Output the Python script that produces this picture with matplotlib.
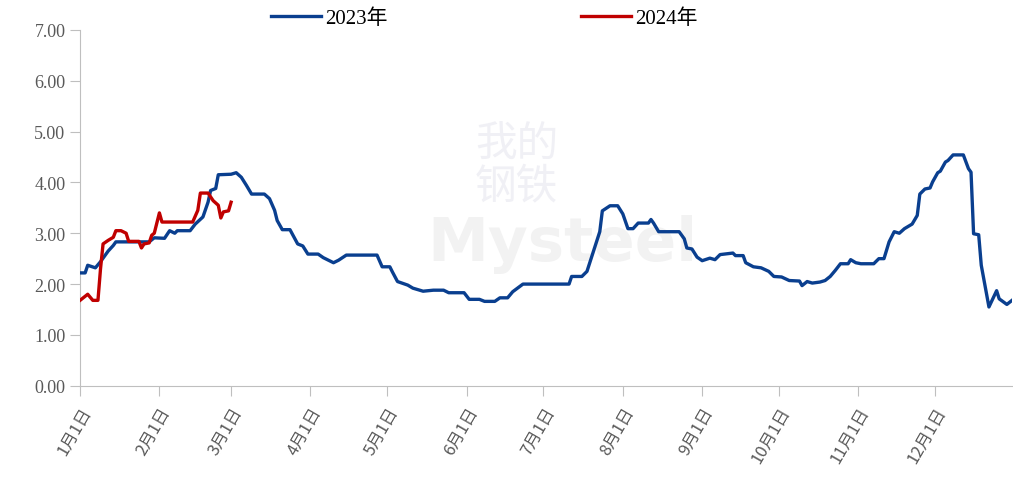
import matplotlib
matplotlib.use("Agg")
import matplotlib.pyplot as plt

plt.rcParams['font.family'] = ['Liberation Serif', 'Noto Sans CJK SC']

# 2023年 (day of year, value)
dias_2023 = [0, 2, 3, 6, 8, 11, 13, 14, 27, 29, 33, 35, 37, 38, 43, 45, 48, 50, 51, 53,
             54, 59, 61, 63, 65, 67, 72, 74, 76, 77, 79, 82, 85, 87, 89, 93, 95, 97, 99, 101,
             104, 116, 118, 121, 122, 124, 128, 130, 134, 138, 142, 144, 150, 152, 156, 158,
             162, 164, 167, 169, 173, 191, 192, 196, 198, 200, 203, 204, 207, 210, 212, 214,
             216, 218, 222, 223, 224, 226, 234, 236, 237, 239, 241, 243, 246, 248, 250, 255,
             256, 259, 260, 263, 266, 269, 271, 274, 277, 281, 282, 284, 286, 289, 291, 293,
             295, 297, 300, 301, 303, 305, 310, 312, 314, 316, 318, 320, 322, 325, 327, 328,
             330, 332, 333, 335, 336, 338, 339, 341, 345, 347, 348, 349, 351, 352, 355, 358,
             359, 362, 364]
valores_2023 = [2.22, 2.22, 2.37, 2.32, 2.44, 2.65, 2.76, 2.83, 2.83, 2.91, 2.90, 3.05, 3.00, 3.05, 3.05, 3.18, 3.32, 3.61, 3.84, 3.88,
                4.15, 4.16, 4.19, 4.10, 3.94, 3.77, 3.77, 3.68, 3.45, 3.25, 3.07, 3.07, 2.79, 2.75, 2.59, 2.59, 2.52, 2.47, 2.42, 2.47,
                2.57, 2.57, 2.34, 2.34, 2.24, 2.05, 1.98, 1.92, 1.86, 1.88, 1.88, 1.83, 1.83, 1.70, 1.70, 1.66,
                1.66, 1.73, 1.73, 1.85, 2.00, 2.00, 2.15, 2.15, 2.25, 2.56, 3.03, 3.44, 3.54, 3.54, 3.38, 3.09,
                3.09, 3.20, 3.20, 3.27, 3.20, 3.03, 3.03, 2.89, 2.71, 2.69, 2.53, 2.46, 2.51, 2.48, 2.58, 2.61,
                2.56, 2.56, 2.42, 2.34, 2.32, 2.25, 2.15, 2.14, 2.07, 2.06, 1.97, 2.05, 2.02, 2.04, 2.07, 2.15,
                2.27, 2.40, 2.40, 2.48, 2.42, 2.40, 2.40, 2.50, 2.50, 2.83, 3.03, 3.00, 3.09, 3.18, 3.35, 3.77,
                3.87, 3.89, 4.01, 4.19, 4.22, 4.40, 4.43, 4.54, 4.54, 4.27, 4.20, 2.99, 2.97, 2.37, 1.55, 1.87,
                1.71, 1.60, 1.68]

# 2024年
dias_2024 = [0, 3, 5, 7, 8, 9, 11, 13, 14, 16, 18, 19, 23, 24, 25, 27, 28, 29, 31, 32,
             44, 46, 47, 50, 52, 54, 55, 56, 58, 59]
valores_2024 = [1.68, 1.80, 1.68, 1.68, 2.30, 2.79, 2.86, 2.92, 3.05, 3.05, 3.00, 2.84, 2.84, 2.71, 2.79, 2.81, 2.96, 3.00, 3.40, 3.22,
                3.22, 3.45, 3.79, 3.79, 3.64, 3.55, 3.30, 3.42, 3.44, 3.61]

meses = [0, 31, 59, 90, 120, 151, 181, 212, 243, 273, 304, 334]
etiquetas = [f"{m}月1日" for m in range(1, 13)]

fig = plt.figure(figsize=(10.13, 4.89), dpi=100)
ax = fig.add_axes([0.079, 0.209, 0.92, 0.728])
ax.patch.set_alpha(0)

ax.plot(dias_2023, valores_2023, color='#0A3F8F', lw=2.4, label='2023年', zorder=3)
ax.plot(dias_2024, valores_2024, color='#C00000', lw=2.4, label='2024年', zorder=4)

# marca de agua
fig.text(0.555, 0.5, 'Mysteel', fontsize=44, color='#F2F2F2', fontweight='bold',
         ha='center', va='center', family='DejaVu Sans', zorder=-1)
fig.text(0.51, 0.66, '我的\n钢铁', fontsize=30, color='#F0F0F5', linespacing=1.0,
         ha='center', va='center', family='Noto Sans CJK SC', zorder=-1)

ax.set_xlim(0, 364)
ax.set_ylim(0, 7)
ax.set_yticks([i for i in range(8)])
ax.set_yticklabels([f"{i:.2f}" for i in range(8)])
ax.set_xticks(meses)
ax.set_xticklabels(etiquetas, rotation=60, ha='right', rotation_mode='anchor',
                   family=['Noto Sans CJK SC'])

for lado in ['top', 'right']:
    ax.spines[lado].set_visible(False)
for lado in ['left', 'bottom']:
    ax.spines[lado].set_color('#BFBFBF')
ax.tick_params(axis='both', colors='#BFBFBF', labelcolor='#595959', labelsize=13, length=7, direction='out')
ax.tick_params(axis='x', labelsize=12, pad=6)

fig.legend(loc='center', bbox_to_anchor=(0.478, 0.961), ncol=2, frameon=False,
           fontsize=15, handlelength=2.4, handletextpad=0.2, columnspacing=9.3)

plt.savefig('out.png', dpi=100)
